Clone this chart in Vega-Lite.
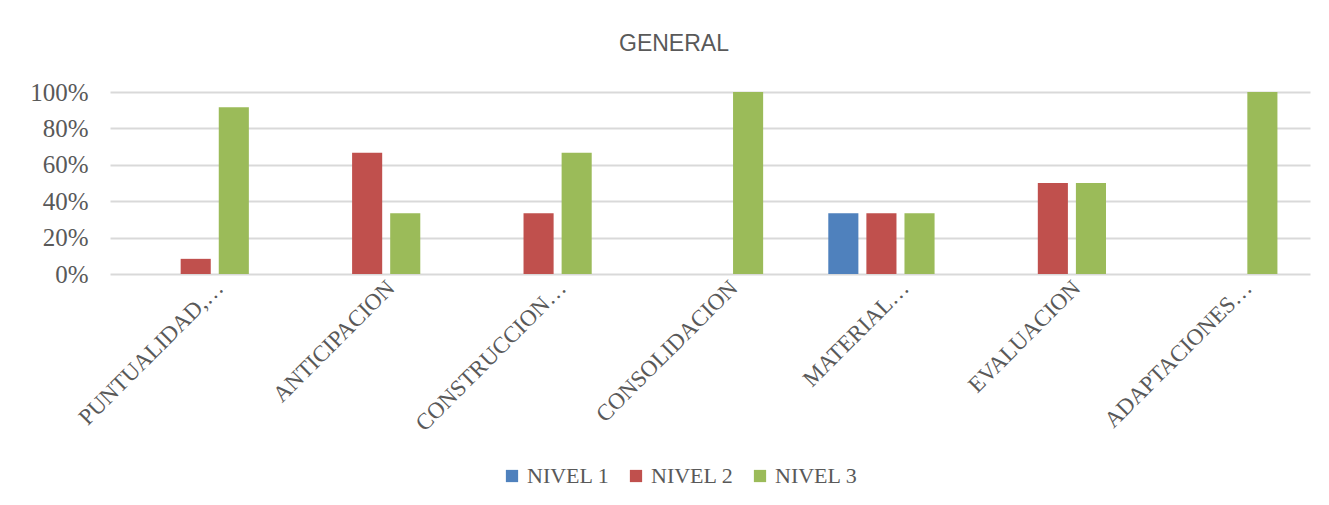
{
  "$schema": "https://vega.github.io/schema/vega-lite/v6.json",
  "width": 1200,
  "height": 182,
  "autosize": {"type": "none"},
  "padding": {"left": 110, "top": 92, "right": 19, "bottom": 231},
  "background": "white",
  "title": {
    "text": "GENERAL",
    "font": "Liberation Sans",
    "fontSize": 23,
    "fontWeight": "normal",
    "color": "#595959",
    "anchor": "middle",
    "dx": -36,
    "offset": 24
  },
  "data": {
    "values": [
      {"categoria": "PUNTUALIDAD,…", "nivel": "NIVEL 2", "valor": 0.0833},
      {"categoria": "PUNTUALIDAD,…", "nivel": "NIVEL 3", "valor": 0.9167},
      {"categoria": "ANTICIPACION", "nivel": "NIVEL 2", "valor": 0.6667},
      {"categoria": "ANTICIPACION", "nivel": "NIVEL 3", "valor": 0.3333},
      {"categoria": "CONSTRUCCION…", "nivel": "NIVEL 2", "valor": 0.3333},
      {"categoria": "CONSTRUCCION…", "nivel": "NIVEL 3", "valor": 0.6667},
      {"categoria": "CONSOLIDACION", "nivel": "NIVEL 3", "valor": 1.0},
      {"categoria": "MATERIAL…", "nivel": "NIVEL 1", "valor": 0.3333},
      {"categoria": "MATERIAL…", "nivel": "NIVEL 2", "valor": 0.3333},
      {"categoria": "MATERIAL…", "nivel": "NIVEL 3", "valor": 0.3333},
      {"categoria": "EVALUACION", "nivel": "NIVEL 2", "valor": 0.5},
      {"categoria": "EVALUACION", "nivel": "NIVEL 3", "valor": 0.5},
      {"categoria": "ADAPTACIONES…", "nivel": "NIVEL 3", "valor": 1.0}
    ]
  },
  "mark": {"type": "bar"},
  "encoding": {
    "x": {
      "field": "categoria",
      "type": "nominal",
      "sort": null,
      "scale": {"paddingInner": 0.38, "paddingOuter": 0.19},
      "axis": {
        "title": null,
        "labelAngle": -45,
        "labelAlign": "right",
        "labelBaseline": "middle",
        "labelFont": "Liberation Serif",
        "labelFontSize": 23,
        "labelColor": "#595959",
        "labelPadding": 10,
        "labelOffset": 24,
        "labelLimit": 400,
        "ticks": false,
        "domain": false,
        "grid": false
      }
    },
    "xOffset": {
      "field": "nivel",
      "type": "nominal",
      "scale": {"domain": ["NIVEL 1", "NIVEL 2", "NIVEL 3"], "paddingInner": 0.21, "paddingOuter": 0}
    },
    "y": {
      "field": "valor",
      "type": "quantitative",
      "scale": {"domain": [0, 1], "nice": false},
      "axis": {
        "title": null,
        "values": [0, 0.2, 0.4, 0.6, 0.8, 1.0],
        "format": ".0%",
        "labelFont": "Liberation Serif",
        "labelFontSize": 25,
        "labelColor": "#595959",
        "labelPadding": 22,
        "ticks": false,
        "domain": false,
        "grid": true,
        "gridColor": "#d9d9d9",
        "gridWidth": 2
      }
    },
    "color": {
      "field": "nivel",
      "type": "nominal",
      "scale": {
        "domain": ["NIVEL 1", "NIVEL 2", "NIVEL 3"],
        "range": ["#4F81BD", "#C0504D", "#9BBB59"]
      },
      "legend": {
        "title": null,
        "orient": "none",
        "direction": "horizontal",
        "legendX": 391,
        "legendY": 373,
        "symbolType": "square",
        "symbolSize": 150,
        "symbolOpacity": 1,
        "labelFont": "Liberation Serif",
        "labelFontSize": 22,
        "labelColor": "#595959",
        "labelOffset": 4,
        "columnPadding": 15
      }
    }
  },
  "config": {
    "view": {"stroke": null}
  }
}
